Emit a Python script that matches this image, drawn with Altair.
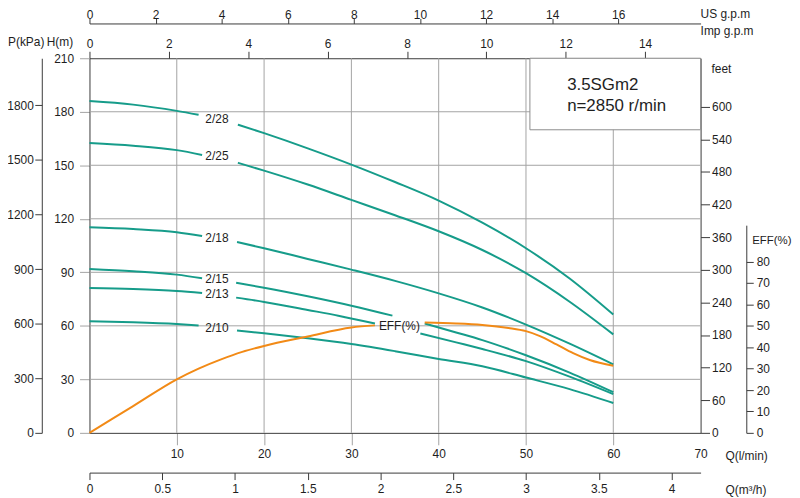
import altair as alt
import pandas as pd

# ---------------- data ----------------
# pump head curves: list of segments (gaps where the labels sit), Q in l/min, H in m
Q_2_28 = [[0, 5, 10, 12.5], [17, 20, 25, 30, 35, 40, 45, 50, 55, 60]]
H_2_28 = [[186, 184, 180.5, 178.3], [172.8, 168, 159.5, 150.4, 140.6, 130.2, 117.8, 103.5, 86.5, 66.3]]
Q_2_25 = [[0, 5, 10, 12.9], [17, 20, 25, 30, 35, 40, 45, 50, 55, 60]]
H_2_25 = [[162.5, 161, 158.5, 155.8], [151.4, 147, 139.2, 130.6, 122, 113, 102.5, 89.5, 73.5, 55.2]]
Q_2_18 = [[0, 5, 10, 12.9], [16.9, 20, 25, 30, 35, 40, 45, 50, 55, 60]]
H_2_18 = [[115.3, 114.3, 112.5, 110.3], [107, 103.5, 97.5, 91.5, 85.2, 78.2, 70.3, 60.7, 50, 38.4]]
Q_2_15 = [[0, 5, 10, 12.9], [16.8, 20, 25, 30, 34.7], [38.4, 42, 45, 50, 55, 60]]
H_2_15 = [[91.9, 90.6, 88.7, 86.7], [84.1, 81.4, 76.6, 71.3, 65.7], [61.3, 56.3, 52, 43.5, 33.8, 22.8]]
Q_2_13 = [[0, 5, 10, 12.9], [16.8, 20, 25, 28.5, 32.7], [37.9, 42, 45, 50, 55, 60]]
H_2_13 = [[81.2, 80.6, 79.5, 78.4], [75.8, 73.4, 68.9, 65.7, 61.3], [55.7, 50.7, 47, 40.2, 31.5, 21.7]]
Q_2_10 = [[0, 5, 10, 12.5], [16.9, 20, 25, 30, 35, 40, 45, 50, 55, 60]]
H_2_10 = [[62.6, 62, 61, 60.2], [57.4, 55.8, 53, 49.8, 45.8, 41.4, 37.3, 31, 24.5, 16.7]]

# efficiency curve, EFF in %
Q_EFF = [[0, 5, 10, 12.5, 15, 17.5, 20, 25, 30, 32.7],
         [38.4, 42, 45, 48, 50, 51.6, 53.5, 55.4, 57.3, 60]]
E_EFF = [[0, 12.5, 25, 30, 34.2, 37.8, 40.6, 45, 49.2, 50.2],
         [51.5, 51.1, 50.4, 49, 47.5, 45.2, 41.3, 37.2, 34, 31.3]]

CURVE_NAMES = ["2/28", "2/25", "2/18", "2/15", "2/13", "2/10"]
CURVE_Q = [Q_2_28, Q_2_25, Q_2_18, Q_2_15, Q_2_13, Q_2_10]
CURVE_H = [H_2_28, H_2_25, H_2_18, H_2_15, H_2_13, H_2_10]

# curve label anchors (data coords)
LABEL_Q = [14.6, 14.6, 14.6, 14.6, 14.6, 14.6]
LABEL_H = [176.0, 155.0, 109.3, 86.1, 77.9, 58.9]
EFF_LABEL = ["EFF(%)"]
EFF_LABEL_Q = [35.5]
EFF_LABEL_H = [59.8]

# info box extent (data coords)
BOX_Q = [50.45]
BOX_Q2 = [70]
BOX_H = [169.9]
BOX_H2 = [210]
BOX_LINES = ["3.5SGm2", "n=2850 r/min"]

# axes
Q_MAX = 70
H_MAX = 210
Q_TICKS = [10, 20, 30, 40, 50, 60, 70]
H_TICKS = [0, 30, 60, 90, 120, 150, 180, 210]
GRID_Q = [10, 20, 30, 40, 50, 60]
GRID_H = [30, 60, 90, 120, 150, 180]
IMP_TICKS = [0, 2, 4, 6, 8, 10, 12, 14]
US_TICKS = [0, 2, 4, 6, 8, 10, 12, 14, 16]
M3H_TICKS = [0, 0.5, 1, 1.5, 2, 2.5, 3, 3.5, 4]
KPA_TICKS = [0, 300, 600, 900, 1200, 1500, 1800]
FT_TICKS = [0, 60, 120, 180, 240, 300, 360, 420, 480, 540, 600]
EFF_TICKS = [0, 10, 20, 30, 40, 50, 60, 70, 80]

IMP_MAX = Q_MAX / 4.54609
US_MAX = Q_MAX / 3.785411784
M3H_MAX = Q_MAX * 0.06
KPA_MAX = H_MAX * 9.80665
FT_MAX = H_MAX / 0.3048
EFF_TOP = 97.0

# ---------------- styling ----------------
W, H = 615, 377
TEAL = "#169c8a"
ORANGE = "#f28a16"
GRID = "#a3a3a3"
DARK = "#3a3a3a"
TXT = "#1e1e1e"
FONT = "Liberation Sans"

rows = []
for name, qs, hs in zip(CURVE_NAMES, CURVE_Q, CURVE_H):
    for si, (qseg, hseg) in enumerate(zip(qs, hs)):
        for i, (q, h) in enumerate(zip(qseg, hseg)):
            rows.append({"curve": name, "seg": f"{name}-{si}", "i": i, "Q": q, "H": h})
curves_df = pd.DataFrame(rows)

eff_rows = []
for si, (qseg, eseg) in enumerate(zip(Q_EFF, E_EFF)):
    for i, (q, e) in enumerate(zip(qseg, eseg)):
        eff_rows.append({"seg": si, "i": i, "Q": q, "EFF": e})
eff_df = pd.DataFrame(eff_rows)

AX_Q = alt.Axis(orient="bottom", values=Q_TICKS, title=None, grid=False,
                tickSize=12, tickColor=GRID,
                tickOpacity={"condition": {"test": "datum.value == 70", "value": 0}, "value": 1},
                labelPadding=4, domainColor=DARK, labelFlush=False, labelOverlap=False)
AX_H = alt.Axis(orient="left", values=H_TICKS, title=None, grid=False,
                tickSize=10, tickColor=GRID, labelPadding=6, domainColor=DARK,
                labelOverlap=False, labelFlush=False)

xq = alt.X("Q:Q", scale=alt.Scale(domain=[0, Q_MAX], nice=False, zero=False), axis=AX_Q)
yh = alt.Y("H:Q", scale=alt.Scale(domain=[0, H_MAX], nice=False, zero=False), axis=AX_H)

grid_v = alt.Chart(pd.DataFrame({"Q": GRID_Q})).mark_rule(color=GRID, strokeWidth=1).encode(x=xq)
grid_h = alt.Chart(pd.DataFrame({"H": GRID_H})).mark_rule(color=GRID, strokeWidth=1).encode(y=yh)

lines = alt.Chart(curves_df).mark_line(color=TEAL, strokeWidth=2, interpolate="monotone").encode(
    x=xq, y=yh, detail="seg:N", order="i:Q")

box = alt.Chart(pd.DataFrame({"Q": BOX_Q, "Q2": BOX_Q2, "H": BOX_H, "H2": BOX_H2})).mark_rect(
    fill="white", stroke="#8c8c8c", strokeWidth=1).encode(x=xq, x2="Q2:Q", y=yh, y2="H2:Q")

curve_labels = alt.Chart(pd.DataFrame({"t": CURVE_NAMES, "Q": LABEL_Q, "H": LABEL_H})).mark_text(
    fontSize=12, font=FONT, color=TXT, align="center", baseline="middle").encode(x=xq, y=yh, text="t:N")
eff_label = alt.Chart(pd.DataFrame({"t": EFF_LABEL, "Q": EFF_LABEL_Q, "H": EFF_LABEL_H})).mark_text(
    fontSize=12, font=FONT, color=TXT, align="center", baseline="middle").encode(x=xq, y=yh, text="t:N")


def label(text, px, py, size=12, align="left"):
    return alt.Chart(pd.DataFrame({"t": [text]})).mark_text(
        fontSize=size, font=FONT, color=TXT, align=align, baseline="alphabetic").encode(
        x=alt.value(px), y=alt.value(py), text="t:N")


texts = [
    label(BOX_LINES[0], 480.7, 32.3, size=17),
    label(BOX_LINES[1], 480.7, 53.0, size=17),
    label("P(kPa)", -82, -12),
    label("H(m)", -43, -12),
    label("US  g.p.m", 615, -40),
    label("Imp  g.p.m", 615, -23),
    label("feet", 626, 14.7),
    label("EFF(%)", 667, 187, size=11.5),
    label("Q(l/min)", 640, 404),
    label("Q(m\u00b3/h)", 640, 439),
]

main = alt.layer(grid_v, grid_h, lines, box, curve_labels, eff_label, *texts)

eff = alt.Chart(eff_df).mark_line(color=ORANGE, strokeWidth=2, interpolate="monotone").encode(
    x=alt.X("Q:Q", scale=alt.Scale(domain=[0, Q_MAX], nice=False, zero=False), axis=None),
    y=alt.Y("EFF:Q", scale=alt.Scale(domain=[0, EFF_TOP], range=[H, H - 209], nice=False, zero=False),
            axis=alt.Axis(orient="right", offset=46, values=EFF_TICKS, title=None, tickSize=7,
                          labelPadding=3, domainColor=DARK, tickColor=DARK, grid=False,
                          labelOverlap=False, labelFlush=False)),
    detail="seg:N", order="i:Q")

ax_imp_kpa = alt.Chart(pd.DataFrame({"imp": [0, IMP_MAX], "kpa": [0, KPA_MAX]})).mark_point(opacity=0).encode(
    x=alt.X("imp:Q", scale=alt.Scale(domain=[0, IMP_MAX], nice=False, zero=False),
            axis=alt.Axis(orient="top", values=IMP_TICKS, title=None, tickSize=7, labelPadding=1,
                          domainColor=DARK, tickColor=DARK, grid=False, labelFlush=False,
                          labelOverlap=False)),
    y=alt.Y("kpa:Q", scale=alt.Scale(domain=[0, KPA_MAX], nice=False, zero=False),
            axis=alt.Axis(orient="left", offset=48, values=KPA_TICKS, title=None, tickSize=7,
                          labelPadding=1.5, domainColor=DARK, tickColor=DARK, grid=False,
                          labelOverlap=False, labelFlush=False, format="d")))

ax_us_ft = alt.Chart(pd.DataFrame({"us": [0, US_MAX], "ft": [0, FT_MAX]})).mark_point(opacity=0).encode(
    x=alt.X("us:Q", scale=alt.Scale(domain=[0, US_MAX], nice=False, zero=False),
            axis=alt.Axis(orient="top", offset=35, values=US_TICKS, title=None, tickSize=5,
                          labelPadding=0, labelBaseline="alphabetic", domainColor=DARK,
                          tickColor=DARK, grid=False, labelFlush=False, labelOverlap=False)),
    y=alt.Y("ft:Q", scale=alt.Scale(domain=[0, FT_MAX], nice=False, zero=False),
            axis=alt.Axis(orient="right", values=FT_TICKS, title=None, tickSize=9, labelPadding=2,
                          domainColor=DARK, tickColor=DARK, grid=False, labelOverlap=False,
                          labelFlush=False)))

ax_m3h = alt.Chart(pd.DataFrame({"m3h": [0, M3H_MAX]})).mark_point(opacity=0).encode(
    x=alt.X("m3h:Q", scale=alt.Scale(domain=[0, M3H_MAX], nice=False, zero=False),
            axis=alt.Axis(orient="bottom", offset=40, values=M3H_TICKS, title=None, tickSize=7,
                          labelPadding=4, domainColor=DARK, tickColor=DARK, grid=False,
                          labelFlush=False, labelOverlap=False, format="~g")),
    y=alt.value(0))

chart = alt.layer(main, eff, ax_imp_kpa, ax_us_ft, ax_m3h).resolve_scale(
    x="independent", y="independent"
).properties(
    width=W, height=H,
    autosize=alt.AutoSizeParams(type="none"),
    padding={"left": 82, "top": 49, "right": 92, "bottom": 64},
).configure(font=FONT).configure_view(stroke=None).configure_axis(
    labelFont=FONT, labelFontSize=12, labelColor=TXT, domainWidth=1, tickWidth=1
)

chart.save("out.html", embed_options={"renderer": "svg", "actions": False})
